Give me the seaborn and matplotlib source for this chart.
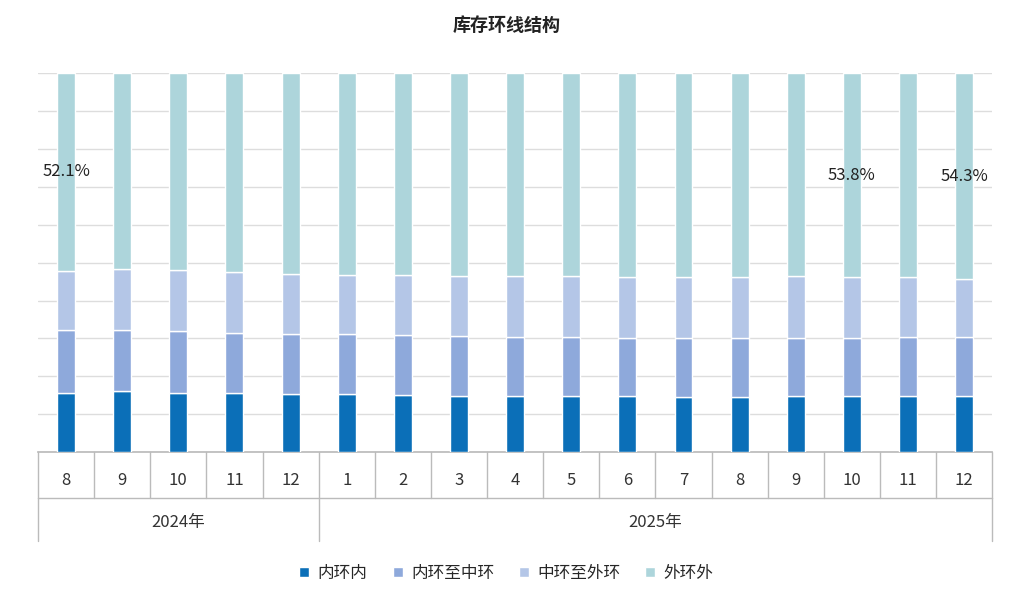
import matplotlib
matplotlib.use("Agg")
import matplotlib.pyplot as plt
import seaborn as sns
import numpy as np
import pandas as pd

sns.set_theme(style="white")
plt.rcParams['font.family'] = ['Noto Sans CJK SC', 'DejaVu Sans']

months = ["8","9","10","11","12","1","2","3","4","5","6","7","8","9","10","11","12"]
years = ["2024年"]*5 + ["2025年"]*12
inner = [15.6,16.1,15.6,15.6,15.3,15.3,15.0,14.8,14.8,14.8,14.8,14.5,14.5,14.8,14.8,14.8,14.8]
inner_mid = [16.6,16.1,16.4,15.8,15.8,15.8,15.8,15.8,15.6,15.6,15.3,15.6,15.6,15.3,15.3,15.6,15.6]
mid_outer = [15.7,16.1,16.1,16.1,15.9,15.6,15.9,15.8,16.1,16.1,16.1,16.1,16.1,16.4,16.1,15.8,15.3]
outer = [52.1,51.7,51.9,52.5,53.0,53.3,53.3,53.6,53.5,53.5,53.8,53.8,53.8,53.5,53.8,53.8,54.3]
labelled = [0, 14, 16]

series = {"内环内": inner, "内环至中环": inner_mid, "中环至外环": mid_outer, "外环外": outer}
colors = ["#0B6FB8", "#8EA9DB", "#B4C6E7", "#ADD5DB"]

fig = plt.figure(figsize=(10.13, 5.99), dpi=100)
ax = fig.add_axes([0.0375, 0.245, 0.942, 0.633])
x = np.arange(len(months))
bottom = np.zeros(len(months))
handles = []
for (name, vals), c in zip(series.items(), colors):
    v = np.array(vals)
    h = ax.bar(x, v, bottom=bottom, width=0.32, color=c, label=name, zorder=3)
    handles.append(h)
    bottom += v
for i in labelled:
    ax.text(i, bottom[i] - outer[i] / 2, f"{outer[i]:.1f}%", ha="center", va="center", fontsize=12, color="#222222", zorder=4)

ax.set_xlim(-0.5, len(months) - 0.5)
ax.set_ylim(0, 100)
ax.set_yticks(np.arange(0, 101, 10))
ax.set_yticklabels([])
ax.set_xticks([])
ax.grid(axis="y", color="#DDDDDD", lw=1, zorder=0)
for s in ["top", "right", "left"]:
    ax.spines[s].set_visible(False)
ax.spines["bottom"].set_color("#BBBBBB")

tr = ax.get_xaxis_transform()
lc = "#BBBBBB"
for i, m in enumerate(months):
    ax.text(i, -0.075, m, transform=tr, ha="center", va="center", fontsize=12, color="#333333")
for b in np.arange(-0.5, len(months), 1.0):
    ax.plot([b, b], [0, -0.12], transform=tr, color=lc, lw=1, clip_on=False)
ax.plot([-0.5, len(months) - 0.5], [-0.12, -0.12], transform=tr, color=lc, lw=1, clip_on=False)
uy = list(dict.fromkeys(years))
start = 0
for y in uy:
    n = years.count(y)
    ax.text(start + (n - 1) / 2, -0.185, y, transform=tr, ha="center", va="center", fontsize=12, color="#333333")
    ax.plot([start - 0.5, start - 0.5], [-0.12, -0.235], transform=tr, color=lc, lw=1, clip_on=False)
    start += n
ax.plot([start - 0.5, start - 0.5], [-0.12, -0.235], transform=tr, color=lc, lw=1, clip_on=False)

fig.legend(handles=handles, loc="center", bbox_to_anchor=(0.5, 0.043), ncol=4, frameon=False,
           fontsize=12, handlelength=0.6, handleheight=0.6, columnspacing=1.5, handletextpad=0.5)
fig.text(0.5, 0.957, "库存环线结构", ha="center", va="center", fontsize=13, fontweight="bold", color="#222222")
fig.savefig("out.png", dpi=100, facecolor="white")
